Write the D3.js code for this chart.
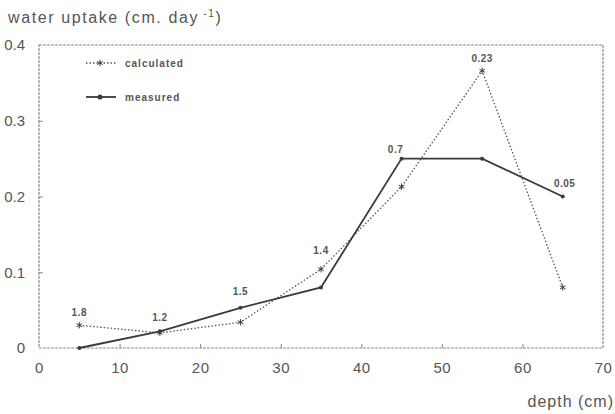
<!DOCTYPE html>
<html>
<head>
<meta charset="utf-8">
<script src="https://cdn.jsdelivr.net/npm/d3@7"></script>
<style>
  html, body { margin: 0; padding: 0; background: #fff; }
  svg { display: block; font-family: "Liberation Sans", Arial, sans-serif; }
</style>
</head>
<body>
<svg id="chart" width="615" height="414"></svg>
<script>
// Depth of each soil layer midpoint (cm)
const depths = [5, 15, 25, 35, 45, 55, 65];
// Water uptake per layer (cm day^-1)
const calculated = [0.030, 0.020, 0.034, 0.104, 0.213, 0.366, 0.080];
const measured   = [0.000, 0.022, 0.053, 0.080, 0.250, 0.250, 0.200];
// Annotations printed beside each layer
const layerNotes = ["1.8", "1.2", "1.5", "1.4", "0.7", "0.23", "0.05"];
// Axis ticks
const xTicks = [0, 10, 20, 30, 40, 50, 60, 70];
const yTicks = [0, 0.1, 0.2, 0.3, 0.4];
const yTickLabels = ["0", "0.1", "0.2", "0.3", "0.4"];

const svg = d3.select("#chart");
const m = { left: 39, right: 603, top: 45, bottom: 348 };

const x = d3.scaleLinear().domain([0, 70]).range([m.left, m.right]);
const y = d3.scaleLinear().domain([0, 0.4]).range([m.bottom, m.top]);

const ink = "#3a3a3a";

// Plot frame
svg.append("rect")
  .attr("x", m.left).attr("y", m.top)
  .attr("width", m.right - m.left).attr("height", m.bottom - m.top)
  .attr("fill", "none").attr("stroke", "#8a8a8a").attr("stroke-width", 1.2)
  .attr("stroke-dasharray", "3,1");

// Bottom axis: short inward ticks, labels below
const xAxis = svg.append("g").attr("transform", `translate(0,${m.bottom})`)
  .call(d3.axisBottom(x).tickValues(xTicks).tickSize(-4).tickPadding(14).tickFormat(d3.format("d")));
xAxis.select(".domain").remove();
xAxis.selectAll(".tick line").attr("stroke", "#888")
  .filter(d => d === 0 || d === 70).remove();
xAxis.selectAll(".tick text").attr("font-size", 15).attr("fill", "#555")
  .attr("letter-spacing", 0.5)
  .attr("font-family", "\"Liberation Sans\", Arial, sans-serif");

// Left axis
const yAxis = svg.append("g").attr("transform", `translate(${m.left},0)`)
  .call(d3.axisLeft(y).tickValues(yTicks).tickSize(-4).tickPadding(14)
    .tickFormat((d, i) => yTickLabels[i]));
yAxis.select(".domain").remove();
yAxis.selectAll(".tick line").attr("stroke", "#888")
  .filter(d => d === 0 || d === 0.4).remove();
yAxis.selectAll(".tick text").attr("font-size", 15).attr("fill", "#555")
  .attr("font-family", "\"Liberation Sans\", Arial, sans-serif");

// Axis titles
svg.append("text").attr("x", 8).attr("y", 23)
  .attr("font-size", 16).attr("letter-spacing", 1.6).attr("fill", "#555")
  .html("water uptake (cm. day<tspan dy='-6' font-size='10'> -1</tspan><tspan dy='6'>)</tspan>");
svg.append("text").attr("x", 614).attr("y", 407).attr("text-anchor", "end")
  .attr("font-size", 16).attr("letter-spacing", 1).attr("fill", "#555").text("depth (cm)");

const line = d3.line().x((d, i) => x(depths[i])).y(d => y(d));

// Calculated series: dotted line with star markers
svg.append("path").datum(calculated).attr("d", line)
  .attr("fill", "none").attr("stroke", "#555").attr("stroke-width", 1.3)
  .attr("stroke-dasharray", "1.5,2");
const star = d3.symbol().type(d3.symbolAsterisk || d3.symbolCross).size(28);
svg.append("g").selectAll("path").data(calculated).join("path")
  .attr("transform", (d, i) => `translate(${x(depths[i])},${y(d)})`)
  .attr("d", star).attr("fill", ink).attr("stroke", ink).attr("stroke-width", 1);

// Measured series: solid line with dot markers
svg.append("path").datum(measured).attr("d", line)
  .attr("fill", "none").attr("stroke", ink).attr("stroke-width", 1.8);
svg.append("g").selectAll("circle").data(measured).join("circle")
  .attr("cx", (d, i) => x(depths[i])).attr("cy", d => y(d)).attr("r", 2)
  .attr("fill", ink);

// Layer annotations
const noteOffsets = [[0, -9], [0, -10], [0, -13], [0, -15], [-6, -6], [0, -9], [2, -10]];
const noteY = (i) => Math.min(y(calculated[i]), y(measured[i]));
svg.append("g").selectAll("text").data(layerNotes).join("text")
  .attr("x", (d, i) => x(depths[i]) + noteOffsets[i][0])
  .attr("y", (d, i) => noteY(i) + noteOffsets[i][1])
  .attr("text-anchor", "middle").attr("font-size", 10).attr("font-weight", "bold")
  .attr("letter-spacing", 0.5).attr("fill", "#555").text(d => d);

// Legend
const legend = [
  { name: "calculated", dash: "1.5,2", sym: "star", w: 1.3, yy: 63 },
  { name: "measured", dash: null, sym: "dot", w: 1.8, yy: 97 }
];
const lg = svg.append("g");
legend.forEach(l => {
  lg.append("line").attr("x1", 86).attr("x2", 116).attr("y1", l.yy).attr("y2", l.yy)
    .attr("stroke", l.dash ? "#555" : ink).attr("stroke-width", l.w)
    .attr("stroke-dasharray", l.dash);
  if (l.sym === "star") {
    lg.append("path").attr("transform", `translate(100,${l.yy})`).attr("d", star)
      .attr("fill", ink).attr("stroke", ink);
  } else {
    lg.append("circle").attr("cx", 100).attr("cy", l.yy).attr("r", 2.5).attr("fill", ink);
  }
  lg.append("text").attr("x", 125).attr("y", l.yy + 3.5).attr("font-size", 10)
    .attr("font-weight", "bold").attr("letter-spacing", 1).attr("fill", "#555").text(l.name);
});
</script>
</body>
</html>
